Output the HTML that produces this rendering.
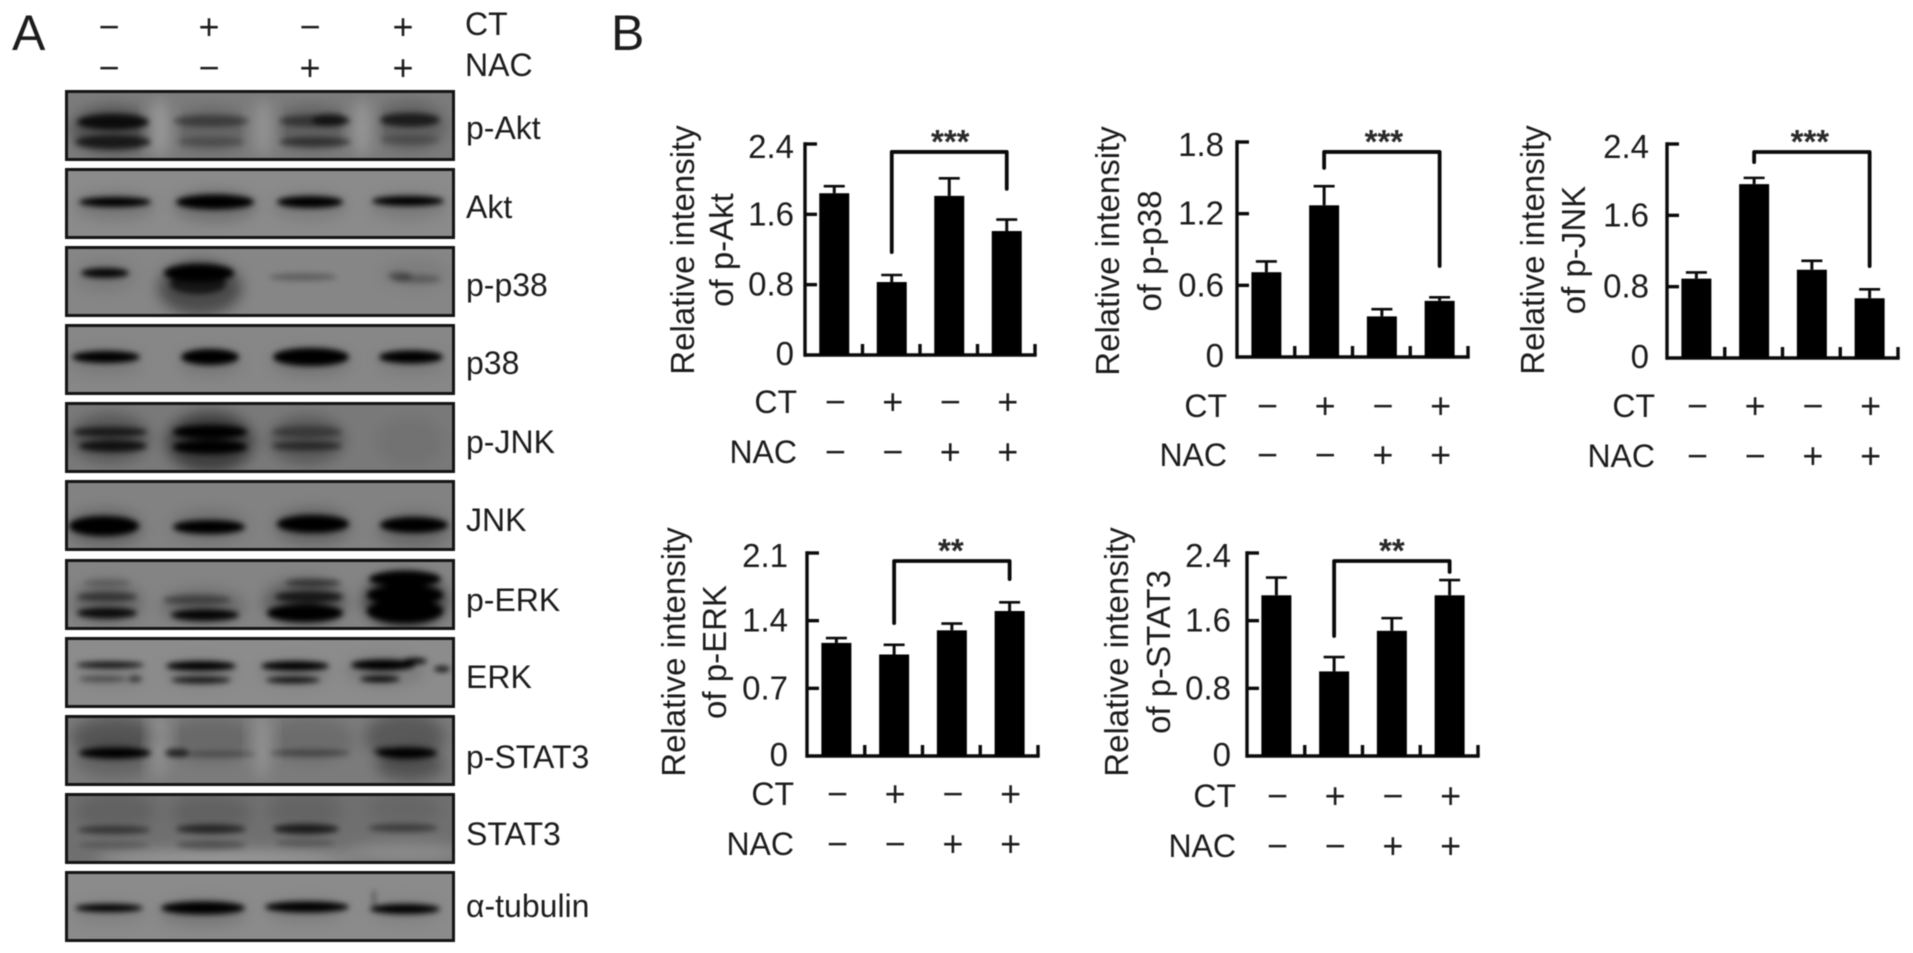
<!DOCTYPE html>
<html lang="en">
<head>
<meta charset="utf-8">
<title>Western blots and relative intensity bar charts</title>
<style>
html,body{margin:0;padding:0;background:#fff;width:1913px;height:953px;overflow:hidden}
svg{display:block}
text{font-family:"Liberation Sans",sans-serif;fill:#1c1c1c}
</style>
</head>
<body>
<svg id="figure" xmlns="http://www.w3.org/2000/svg" width="1913" height="953" viewBox="0 0 1913 953" style="filter:blur(0.6px)">
  <defs>
    <filter id="soft" x="-20%" y="-60%" width="140%" height="220%"><feGaussianBlur stdDeviation="3"/></filter>
    <filter id="wide" x="-30%" y="-60%" width="160%" height="220%"><feGaussianBlur stdDeviation="7"/></filter>
  </defs>
  <text x="12" y="50" font-size="50">A</text>
  <text x="611" y="50" font-size="50">B</text>
  <text x="465" y="35" font-size="32">CT</text>
  <text x="465" y="76" font-size="32">NAC</text>
  <g font-size="36" text-anchor="middle">
    <text x="109" y="39">−</text>
    <text x="209" y="39">+</text>
    <text x="310" y="39">−</text>
    <text x="403" y="39">+</text>
    <text x="109" y="80">−</text>
    <text x="209" y="80">−</text>
    <text x="310" y="80">+</text>
    <text x="403" y="80">+</text>
  </g>
  <g id="blots"></g>
  <g id="charts"></g>
</svg>
<script>
// ---- chart data ----
const conditions = ['CT-/NAC-', 'CT+/NAC-', 'CT-/NAC+', 'CT+/NAC+'];
const ctSigns = ['\u2212', '+', '\u2212', '+'];
const nacSigns = ['\u2212', '\u2212', '+', '+'];

const pAktTicks = ['0', '0.8', '1.6', '2.4'];
const pAktValues = [1.84, 0.83, 1.81, 1.41];
const pAktErrors = [0.08, 0.08, 0.20, 0.13];
const pAktBracket = [1.17, 2.31, 1.89];

const pP38Ticks = ['0', '0.6', '1.2', '1.8'];
const pP38Values = [0.71, 1.27, 0.34, 0.47];
const pP38Errors = [0.09, 0.16, 0.06, 0.03];
const pP38Bracket = [1.583, 1.717, 0.762];

const pJnkTicks = ['0', '0.8', '1.6', '2.4'];
const pJnkValues = [0.89, 1.95, 0.99, 0.67];
const pJnkErrors = [0.07, 0.07, 0.10, 0.10];
const pJnkBracket = [2.197, 2.31, 1.031];

const pErkTicks = ['0', '0.7', '1.4', '2.1'];
const pErkValues = [1.17, 1.05, 1.30, 1.50];
const pErkErrors = [0.05, 0.10, 0.07, 0.09];
const pErkBracket = [1.375, 2.017, 1.83];

const pStat3Ticks = ['0', '0.8', '1.6', '2.4'];
const pStat3Values = [1.90, 1.00, 1.48, 1.90];
const pStat3Errors = [0.21, 0.17, 0.15, 0.18];
const pStat3Bracket = [1.418, 2.305, 2.175];

const rowLabels = ['p-Akt', 'Akt', 'p-p38', 'p38', 'p-JNK', 'JNK', 'p-ERK', 'ERK', 'p-STAT3', 'STAT3', '\u03b1-tubulin'];

const NS = 'http://www.w3.org/2000/svg';
function mk(parent, tag, attrs, txt) {
  const el = document.createElementNS(NS, tag);
  for (const k in attrs) el.setAttribute(k, attrs[k]);
  if (txt !== undefined) el.textContent = txt;
  parent.appendChild(el);
  return el;
}

function drawChart(o) {
  const root = document.getElementById('charts');
  const g = mk(root, 'g', {});
  
  

  const domainMax = parseFloat(o.ticks[o.ticks.length - 1]);
  const yScale = v => o.y0 - (v / domainMax) * (o.y0 - o.yTop);
  const step = (o.xEnd - o.x0) / o.values.length;
  const xCenter = i => o.x0 + step * i + step / 2 + 0.5;

  // y axis title
  o.title.forEach((line, i) => {
    const t = mk(g, 'text', {transform: 'translate(' + o.titleX[i] + ',' + o.titleY + ') rotate(-90)', 'text-anchor': 'middle', 'font-size': 33}, line);
    
    
  });

  // axes
  const yAxis = mk(g, 'line', {x1: o.x0, x2: o.x0, y1: o.yTop - 1.7, y2: o.y0 + 1.7, stroke: '#0a0a0a', 'stroke-width': 3.4});
  
  
  const xAxis = mk(g, 'line', {x1: o.x0, x2: o.xEnd + 1.7, y1: o.y0, y2: o.y0, stroke: '#0a0a0a', 'stroke-width': 3.4});
  
  

  // y ticks and labels
  o.ticks.forEach((label, i) => {
    const y = yScale(parseFloat(label));
    if (parseFloat(label) > 0) {
      const tick = mk(g, 'line', {x1: o.x0, x2: o.x0 + 12, y1: y, y2: y, stroke: '#0a0a0a', 'stroke-width': 3.4});
      
      
    }
    const offset = i === o.ticks.length - 1 ? 14 : (i === 0 ? 10 : 11);
    const t = mk(g, 'text', {x: o.tickRight, y: y + offset, 'text-anchor': 'end', 'font-size': 33}, label);
    
    
  });

  // x ticks
  conditions.forEach((c, i) => {
    const x = o.x0 + step * (i + 1);
    const tick = mk(g, 'line', {x1: x, x2: x, y1: o.y0 - 11, y2: o.y0, stroke: '#0a0a0a', 'stroke-width': 3.4});
    
    
  });

  // bars and error bars
  o.values.forEach((v, i) => {
    const cx = xCenter(i);
    const top = yScale(v);
    const errTop = yScale(v + o.errors[i]);
    const bar = mk(g, 'rect', {x: cx - 15, y: top, width: 30, height: o.y0 - top, fill: '#000'});
    
    
    const stem = mk(g, 'line', {x1: cx, x2: cx, y1: errTop, y2: top, stroke: '#0a0a0a', 'stroke-width': 3});
    
    
    const cap = mk(g, 'line', {x1: cx - 10.5, x2: cx + 10.5, y1: errTop, y2: errTop, stroke: '#0a0a0a', 'stroke-width': 2.6});
    
    
  });

  // significance bracket
  const bx1 = xCenter(1), bx2 = xCenter(3);
  const by1 = yScale(o.bracket[0]), byTop = yScale(o.bracket[1]), by2 = yScale(o.bracket[2]);
  const br = mk(g, 'path', {d: 'M' + bx1 + ' ' + by1 + 'V' + byTop + 'H' + bx2 + 'V' + by2, fill: 'none', stroke: '#0a0a0a', 'stroke-width': 3.8, 'stroke-linecap': 'round', 'stroke-linejoin': 'round'});
  
  
  const stars = mk(g, 'text', {x: (bx1 + bx2) / 2 + o.starsDx, y: byTop + 1, 'text-anchor': 'middle', 'font-size': 33, 'font-weight': 'bold', style: 'fill:#2a2a2a'}, o.stars);
  
  

  // treatment rows
  const ctLabel = mk(g, 'text', {x: o.rowRight, y: o.ctY + 10, 'text-anchor': 'end', 'font-size': 32}, 'CT');
  
  
  const nacLabel = mk(g, 'text', {x: o.rowRight, y: o.nacY + 10, 'text-anchor': 'end', 'font-size': 32}, 'NAC');
  
  
  ctSigns.forEach((s, i) => {
    const t = mk(g, 'text', {x: xCenter(i) + 1, y: o.ctY + 11, 'text-anchor': 'middle', 'font-size': 36}, s);
    
    
  });
  nacSigns.forEach((s, i) => {
    const t = mk(g, 'text', {x: xCenter(i) + 1, y: o.nacY + 11, 'text-anchor': 'middle', 'font-size': 36}, s);
    
    
  });
}

drawChart({name: 'p-akt', ticks: pAktTicks, values: pAktValues, errors: pAktErrors, bracket: pAktBracket, stars: '***', starsDx: 1,
  x0: 805, xEnd: 1035, y0: 355, yTop: 144, tickRight: 794, title: ['Relative intensity', 'of p-Akt'], titleX: [694, 733], titleY: 250, rowRight: 797, ctY: 403, nacY: 453});
drawChart({name: 'p-p38', ticks: pP38Ticks, values: pP38Values, errors: pP38Errors, bracket: pP38Bracket, stars: '***', starsDx: 2,
  x0: 1237, xEnd: 1468, y0: 357, yTop: 142, tickRight: 1224, title: ['Relative intensity', 'of p-p38'], titleX: [1119, 1161], titleY: 251, rowRight: 1227, ctY: 407, nacY: 456});
drawChart({name: 'p-jnk', ticks: pJnkTicks, values: pJnkValues, errors: pJnkErrors, bracket: pJnkBracket, stars: '***', starsDx: -2,
  x0: 1667, xEnd: 1898, y0: 358, yTop: 144, tickRight: 1649, title: ['Relative intensity', 'of p-JNK'], titleX: [1544, 1585], titleY: 250, rowRight: 1655, ctY: 407, nacY: 457});
drawChart({name: 'p-erk', ticks: pErkTicks, values: pErkValues, errors: pErkErrors, bracket: pErkBracket, stars: '**', starsDx: -1,
  x0: 807, xEnd: 1038, y0: 756, yTop: 553, tickRight: 788, title: ['Relative intensity', 'of p-ERK'], titleX: [685, 726], titleY: 652, rowRight: 794, ctY: 795, nacY: 845});
drawChart({name: 'p-stat3', ticks: pStat3Ticks, values: pStat3Values, errors: pStat3Errors, bracket: pStat3Bracket, stars: '**', starsDx: 0,
  x0: 1247, xEnd: 1478, y0: 756, yTop: 553, tickRight: 1231, title: ['Relative intensity', 'of p-STAT3'], titleX: [1128, 1170], titleY: 652, rowRight: 1236, ctY: 797, nacY: 847});

// ---- blot images: background shade, soft smears and sharp bands ----
const blots = document.getElementById('blots');
function blot(idx, baseline, shade, smears, bands) {
  const top = 90 + idx * 78 + (idx > 5 ? 1 : 0);
  const wrap = mk(blots, 'svg', {x: 65, y: top, width: 390, height: 71, viewBox: '0 0 390 71'});
  
  
  const bg = mk(wrap, 'rect', {x: 0, y: 0, width: 390, height: 71, fill: shade});
  
  
  const sm = mk(wrap, 'g', {filter: 'url(#wide)'});
  
  
  smears.forEach(s => {
    const e = mk(sm, 'ellipse', {cx: s[0], cy: s[1], rx: s[2], ry: s[3], fill: s[4] > 0 ? '#000' : '#fff', opacity: Math.abs(s[4])});
    
    
  });
  const bd = mk(wrap, 'g', {filter: 'url(#soft)'});
  
  
  bands.forEach(b => {
    const e = mk(bd, 'ellipse', {cx: b[0], cy: b[1], rx: b[2], ry: b[3], fill: '#000', opacity: b[4]});
    
    
  });
  const fr = mk(wrap, 'rect', {x: 1.5, y: 1.5, width: 387, height: 68, fill: 'none', stroke: '#141414', 'stroke-width': 3});
  
  
  const lab = mk(blots, 'text', {x: 466, y: baseline, 'font-size': 32}, rowLabels[idx]);
  
  
}

blot(0, 139, '#7b7b7b',
  [[48,40,42,24,.35],[146,40,40,22,.18],[247,38,40,22,.22],[345,36,36,24,.22],[95,38,8,30,-.25],[198,38,8,30,-.2],[297,38,7,30,-.25]],
  [[48,32,36,8,.85],[48,52,38,7,.7],[146,31,38,6,.4],[146,52,34,5,.25],[250,31,36,6,.45],[265,30,18,6,.65],[250,52,36,5,.5],[345,30,30,7,.7],[345,50,30,5,.22]]);
blot(1, 218, '#8b8b8b',
  [[50,38,40,14,.15],[150,38,42,16,.2],[245,38,38,14,.12],[343,38,38,14,.12]],
  [[50,34,36,5,1],[150,34,39,7.5,1],[245,34,33,6,1],[343,33,36,5,1]]);
blot(2, 296, '#868686',
  [[135,42,42,27,.45],[40,30,30,15,.1],[350,28,34,14,.08]],
  [[40,27,24,5,.95],[134,27,35,9,1],[133,38,28,10,.7],[238,31,34,4,.28],[335,30,12,4,.35],[352,33,24,4,.28]]);
blot(3, 374, '#878787',
  [[41,38,36,14,.1],[145,38,32,14,.12],[246,38,40,14,.14],[346,38,34,12,.1]],
  [[41,33,34,6,1],[145,33,29,8,1],[246,33,38,9,1],[346,33,32,6.5,1]]);
blot(4, 453, '#797979',
  [[45,36,40,24,.3],[145,40,44,30,.5],[242,38,38,24,.28],[345,40,34,26,.06]],
  [[45,30,37,5,.7],[48,44,34,6,.8],[145,30,37,7,1],[145,45,37,7,1],[242,30,35,6,.35],[242,44,35,4.5,.55]]);
blot(5, 531, '#828282',
  [[40,48,38,18,.25],[144,46,38,16,.15],[248,46,38,18,.25],[349,50,36,18,.2]],
  [[39,46,35,10,1],[144,47,36,7,1],[248,44,36,9,1],[349,45,34,8,1]]);
blot(6, 611, '#848484',
  [[42,44,36,22,.2],[138,48,42,18,.2],[240,44,42,24,.3],[340,42,42,28,.55]],
  [[42,24,24,4,.2],[42,38,30,5,.5],[42,54,30,5.5,.9],[132,41,34,5,.4],[140,56,34,6,.95],[248,24,28,4,.5],[244,38,34,6,.75],[240,54,38,9,1],[340,20,36,8,1],[340,36,38,10,1],[340,52,38,12,1]]);
blot(7, 688, '#8c8c8c',
  [[45,40,36,12,.08],[136,36,36,14,.1],[230,36,36,14,.1],[320,34,40,16,.12]],
  [[45,28,34,3.4,.85],[38,42,24,2.8,.45],[70,42,7,3,.6],[136,29,35,4.8,1],[136,43,30,3.4,.85],[230,29,34,4.8,1],[228,43,27,3.2,.9],[318,28,32,5.5,1],[315,42,20,3.2,.95],[350,24,12,3,.95],[377,32,8,3,.85]]);
blot(8, 768, '#7b7b7b',
  [[50,22,44,20,.3],[50,45,40,18,.18],[146,25,48,22,.15],[245,25,44,22,.12],[340,22,40,24,.28],[345,50,34,16,.32],[95,30,6,36,-.2],[197,30,6,36,-.22]],
  [[50,38,36,5.5,1],[112,38,12,4,.75],[155,39,36,2.8,.32],[245,38,40,3.5,.38],[342,38,30,5.5,1],[318,36,10,4,.45]]);
blot(9, 845, '#6f6f6f',
  [[50,18,40,18,.12],[146,20,40,18,.12],[240,18,36,18,.1],[340,16,36,16,.08],[160,66,130,9,-.3],[340,60,60,10,-.2]],
  [[49,37,37,4,.5],[146,36,35,4.5,.65],[241,36,33,5,.75],[338,35,35,4,.45],[49,52,36,4,.2],[146,52,35,4.5,.32],[240,50,30,4,.22]]);
blot(10, 917, '#8b8b8b',
  [[44,42,38,12,.08],[138,42,44,14,.14],[240,40,40,12,.1],[340,40,36,12,.08]],
  [[44,37,34,4,1],[138,37,42,6.5,1],[242,36,42,5.5,1],[309,27,2,9,.35],[340,38,35,5,1]]);
</script>
</body>
</html>
